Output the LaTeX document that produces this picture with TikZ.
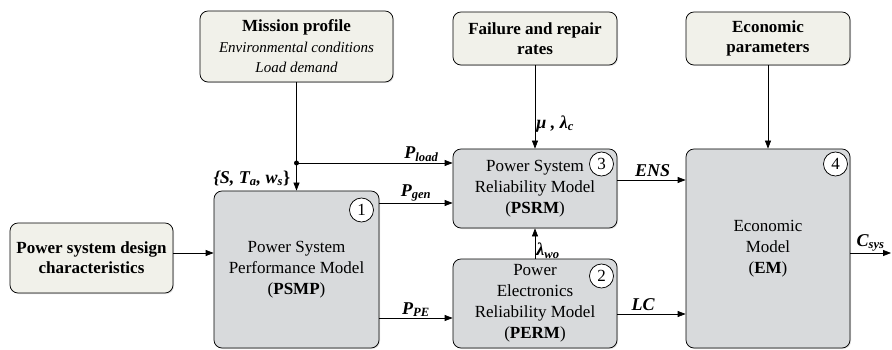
\documentclass[tikz,border=0pt]{standalone}
\usepackage{fontspec}
\setmainfont{Liberation Serif}
\usetikzlibrary{arrows.meta,shadows}

\definecolor{inputfill}{RGB}{241,241,234}
\definecolor{modelfill}{RGB}{216,218,220}

\newcommand{\sym}[2]{{\bfseries\itshape #1\textsubscript{#2}}}

\tikzset{every picture/.style={line width=0.75pt}}
\tikzset{
  inputbox/.style={draw, rounded corners=8pt, fill=inputfill, align=center,
    font=\fontsize{17}{20}\selectfont\bfseries, inner sep=2pt,
    drop shadow={shadow xshift=1pt, shadow yshift=-1pt, opacity=0.25}},
  modelbox/.style={draw, rounded corners=8pt, fill=modelfill, align=center,
    font=\fontsize{17}{21}\selectfont, inner sep=2pt,
    drop shadow={shadow xshift=1pt, shadow yshift=-1pt, opacity=0.25}},
  numcirc/.style={draw, circle, fill=white, minimum size=24pt, inner sep=0pt,
    font=\fontsize{17}{17}\selectfont},
  sig/.style={-{Triangle[length=8pt,width=6pt]}},
  lbl/.style={font=\fontsize{18}{18}\selectfont, inner sep=1pt}
}

\begin{document}
\begin{tikzpicture}[x=1pt,y=1pt,yscale=-1,xscale=1]
\useasboundingbox (0,0) rectangle (892,350);

% Input boxes
\node [inputbox, minimum width=193pt, minimum height=71pt] (mission) at (296.5,46.5)
  {Mission profile\\[1pt] {\normalfont\itshape\fontsize{15}{17}\selectfont Environmental conditions}\\ {\normalfont\itshape\fontsize{15}{17}\selectfont Load demand}};
\node [inputbox, minimum width=164pt, minimum height=53pt] (failure) at (535,38.5)
  {Failure and repair\\ rates};
\node [inputbox, minimum width=164pt, minimum height=53pt] (econ) at (768,38.5)
  {Economic\\ parameters};
\node [inputbox, minimum width=163pt, minimum height=70pt] (design) at (91.5,258)
  {Power system design\\ characteristics};

% Model boxes
\node [modelbox, minimum width=165pt, minimum height=157pt] (psmp) at (296.5,269.5)
  {Power System\\ Performance Model\\ (\textbf{PSMP})};
\node [modelbox, minimum width=164pt, minimum height=79pt] (psrm) at (535,188.5)
  {Power System\\ Reliability Model\\ (\textbf{PSRM})};
\node [modelbox, minimum width=164pt, minimum height=89pt] (perm) at (535,303.5)
  {Power\\ Electronics\\ Reliability Model\\ (\textbf{PERM})};
\node [modelbox, minimum width=164pt, minimum height=199pt] (em) at (768,248.5)
  {Economic\\ Model\\ (\textbf{EM})};

% Numbers
\node [numcirc] (n1) at (361.5,210) {1};
\node [numcirc] (n2) at (601.5,276) {2};
\node [numcirc] (n3) at (601.5,164) {3};
\node [numcirc] (n4) at (835.5,164) {4};

% Connectors
\coordinate (split) at (296.5,163);
\coordinate (csys) at (891,253);
\draw (mission.south) -- (split);
\fill (split) circle (2.5pt);
\draw [sig] (split) -- node [lbl, left, pos=0.55, xshift=-5pt] {\sym{\{S, T}{a}\sym{, w}{s}\textbf{\}}} (psmp.north);
\draw [sig] (split) -- node [lbl, above, pos=0.8] {\sym{P}{load}} (psrm.west |- split);
\draw [sig] (psmp.east |- 0,203) -- node [lbl, above, pos=0.5] {\sym{P}{gen}} (psrm.west |- 0,203);
\draw [sig] (psmp.east |- 0,318) -- node [lbl, above, pos=0.5] {\sym{P}{PE}} (perm.west |- 0,318);
\draw [sig] (design.east |- 0,253) -- (psmp.west |- 0,253);
\draw [sig] (failure.south) -- node [lbl, right, pos=0.7] {\sym{μ , λ}{c}} (psrm.north);
\draw [sig] (econ.south) -- (em.north);
\draw [sig] (perm.north) -- node [lbl, right, pos=0.26] {\sym{λ}{wo}} (psrm.south);
\draw [sig] (psrm.east |- 0,180) -- node [lbl, above, pos=0.52] {\sym{ENS}{}} (em.west |- 0,180);
\draw [sig] (perm.east |- 0,314) -- node [lbl, above, pos=0.38] {\sym{LC}{}} (em.west |- 0,314);
\draw [sig] (em.east |- csys) -- node [lbl, above, pos=0.5] {\sym{C}{sys}} (csys);

\end{tikzpicture}
\end{document}
